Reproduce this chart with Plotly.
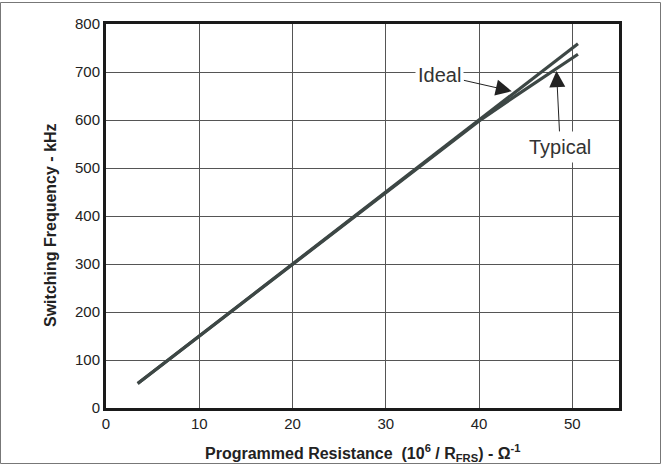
import plotly.graph_objects as go

# Data
ideal_x = [3.4, 10, 20, 30, 40, 50.6]
ideal_y = [51, 150, 300, 450, 600, 759]

typical_x = [3.4, 6, 10, 20, 30, 36, 40, 43.6, 47, 50.6]
typical_y = [51, 90, 150, 300, 450, 540, 598, 646, 691, 737]

x_ticks = [0, 10, 20, 30, 40, 50]
y_ticks = [0, 100, 200, 300, 400, 500, 600, 700, 800]

x_title = "<b>Programmed Resistance  (10<sup>6</sup> / R<sub>FRS</sub>) - Ω<sup>-1</sup></b>"
y_title = "<b>Switching Frequency - kHz</b>"

FONT = "Liberation Sans, Arial, sans-serif"
LINE_COLOR = "#3d4745"

fig = go.Figure()
fig.add_trace(go.Scatter(x=ideal_x, y=ideal_y, mode="lines", name="Ideal",
                         line=dict(color=LINE_COLOR, width=3.2), showlegend=False))
fig.add_trace(go.Scatter(x=typical_x, y=typical_y, mode="lines", name="Typical",
                         line=dict(color=LINE_COLOR, width=3.2), showlegend=False))

W, H = 661, 464
ml, mr, mt, mb = 106, 42, 24, 56
pw, ph = W - ml - mr, H - mt - mb

annotations = [
    dict(x=43.5, y=660, ax=35.8, ay=694, xref="x", yref="y", axref="x", ayref="y",
         text="Ideal", showarrow=True, arrowhead=2, arrowsize=3.2, arrowwidth=1,
         arrowcolor="#222",
         font=dict(family=FONT, size=20, color="#333"), bgcolor="white", borderpad=2),
    dict(x=48.3, y=702, ax=48.7, ay=544, xref="x", yref="y", axref="x", ayref="y",
         text="Typical", showarrow=True, arrowhead=2, arrowsize=3.2, arrowwidth=1,
         arrowcolor="#222",
         font=dict(family=FONT, size=20, color="#333"), bgcolor="white", borderpad=4),
    # axis titles
    dict(x=0.5, y=-(453 - (H - mb)) / ph, xref="paper", yref="paper",
         xanchor="center", yanchor="middle", text=x_title, showarrow=False,
         font=dict(family=FONT, size=16, color="#222")),
    dict(x=(50 - ml) / pw, y=((H - mb) - 225) / ph, xref="paper", yref="paper",
         xanchor="center", yanchor="middle", text=y_title, showarrow=False,
         textangle=-90, font=dict(family=FONT, size=16, color="#222")),
]

fig.update_layout(
    width=W, height=H,
    margin=dict(l=ml, r=mr, t=mt, b=mb),
    paper_bgcolor="white", plot_bgcolor="white",
    font=dict(family=FONT, color="#222"),
    annotations=annotations,
    shapes=[dict(type="rect", xref="paper", yref="paper",
                 x0=(0.5 - ml) / pw, x1=(W - 0.5 - ml) / pw,
                 y0=-(mb - 0.5) / ph,
                 y1=(ph + mt - 2.5) / ph,
                 line=dict(color="#777", width=1), layer="below")],
)

fig.update_xaxes(range=[0, 55], tickvals=x_ticks, ticktext=[str(v) for v in x_ticks],
                 showgrid=True, gridcolor="#555", gridwidth=1,
                 showline=True, linecolor="#1a1a1a", linewidth=3, mirror=True,
                 ticks="", zeroline=False, tickfont=dict(size=15, color="#222"))
fig.update_yaxes(range=[0, 800], tickvals=y_ticks,
                 showgrid=True, gridcolor="#555", gridwidth=1,
                 showline=True, linecolor="#1a1a1a", linewidth=3, mirror=True,
                 ticks="", zeroline=False, tickfont=dict(size=15, color="#222"))

fig.write_html("out.html", config={"displayModeBar": False},
               post_script="document.body.style.margin='0';")
